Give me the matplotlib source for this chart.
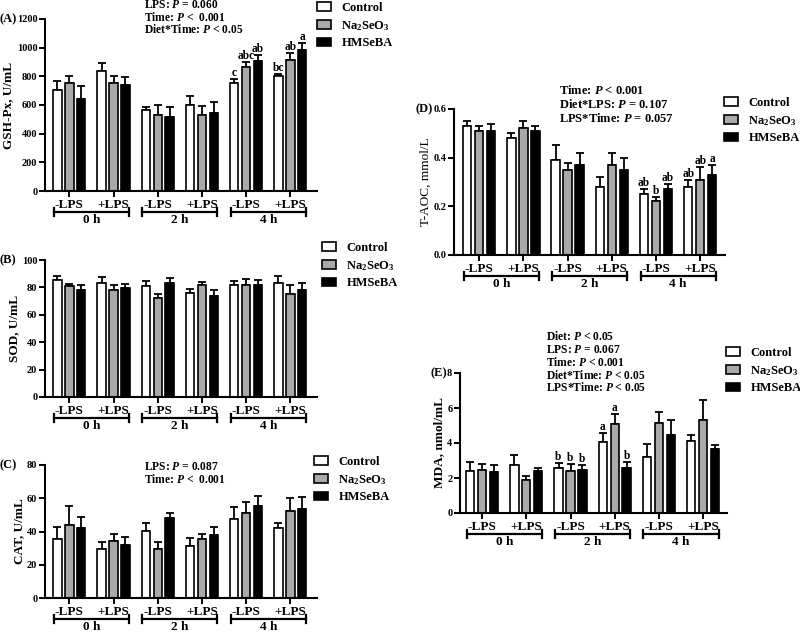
import numpy as np
import matplotlib
matplotlib.use('Agg')
import matplotlib.pyplot as plt

plt.rcParams['font.family'] = 'Liberation Serif'
plt.rcParams['font.weight'] = 'bold'
plt.rcParams['mathtext.fontset'] = 'custom'
plt.rcParams['mathtext.rm'] = 'Liberation Serif:bold'
plt.rcParams['mathtext.bf'] = 'Liberation Serif:bold'
plt.rcParams['mathtext.it'] = 'Liberation Serif:italic:bold'

# ---- data ----
tick_labels = ['-LPS', '+LPS', '-LPS', '+LPS', '-LPS', '+LPS']
time_labels = ['0 h', '2 h', '4 h']
series_names = ['Control', r'Na$_2$SeO$_3$', 'HMSeBA']
series_colors = ['white', '#a9a9a9', 'black']

# (A) GSH-Px
gsh_ctrl = [706, 834, 565, 602, 753, 799]
gsh_ctrl_err = [58, 62, 21, 61, 25, 19]
gsh_na = [755, 753, 530, 530, 866, 915]
gsh_na_err = [44, 46, 68, 63, 37, 49]
gsh_hm = [639, 741, 519, 544, 910, 982]
gsh_hm_err = [93, 54, 65, 74, 40, 51]
gsh_letters = [['', '', '', '', 'c', 'bc'],
               ['', '', '', '', 'abc', 'ab'],
               ['', '', '', '', 'ab', 'a']]

# (B) SOD
sod_ctrl = [85.1, 83.4, 81.0, 75.6, 81.7, 83.4]
sod_ctrl_err = [3.4, 4.4, 3.6, 3.4, 2.9, 5.1]
sod_na = [80.7, 77.8, 72.0, 81.5, 82.0, 75.4]
sod_na_err = [2.0, 3.9, 3.4, 2.6, 3.9, 6.3]
sod_hm = [78.0, 79.8, 83.4, 73.7, 81.5, 78.0]
sod_hm_err = [3.5, 2.6, 3.2, 4.3, 3.9, 4.9]

# (C) CAT
cat_ctrl = [35.6, 29.6, 40.2, 31.2, 47.4, 42.4]
cat_ctrl_err = [7.0, 4.2, 4.8, 4.6, 7.6, 2.8]
cat_na = [44.2, 34.4, 29.6, 35.2, 51.2, 52.6]
cat_na_err = [11.2, 3.8, 3.8, 3.0, 6.8, 7.8]
cat_hm = [42.0, 31.6, 48.0, 37.6, 55.2, 53.6]
cat_hm_err = [6.8, 5.0, 3.4, 5.4, 6.2, 7.4]

# (D) T-AOC
aoc_ctrl = [0.53, 0.48, 0.39, 0.28, 0.25, 0.28]
aoc_ctrl_err = [0.02, 0.02, 0.06, 0.04, 0.02, 0.03]
aoc_na = [0.51, 0.52, 0.35, 0.37, 0.22, 0.31]
aoc_na_err = [0.02, 0.03, 0.03, 0.05, 0.02, 0.05]
aoc_hm = [0.51, 0.51, 0.37, 0.35, 0.27, 0.33]
aoc_hm_err = [0.03, 0.02, 0.05, 0.05, 0.02, 0.04]
aoc_letters = [['', '', '', '', 'ab', 'ab'],
               ['', '', '', '', 'b', 'ab'],
               ['', '', '', '', 'ab', 'a']]

# (E) MDA
mda_ctrl = [2.40, 2.72, 2.60, 4.05, 3.19, 4.09]
mda_ctrl_err = [0.53, 0.59, 0.25, 0.51, 0.76, 0.38]
mda_na = [2.45, 1.88, 2.40, 5.11, 5.17, 5.34]
mda_na_err = [0.33, 0.23, 0.41, 0.54, 0.59, 1.14]
mda_hm = [2.36, 2.40, 2.47, 2.55, 4.47, 3.67]
mda_hm_err = [0.36, 0.19, 0.29, 0.34, 0.82, 0.21]
mda_letters = [['', '', 'b', 'a', '', ''],
               ['', '', 'b', 'a', '', ''],
               ['', '', 'b', 'b', '', '']]

W, H = 800, 632
fig = plt.figure(figsize=(W / 100, H / 100), dpi=100)
fig.patch.set_facecolor('white')

x = np.arange(6)
bw = 0.19
off = 0.27


def panel(left, top, bottom, xlim, ylim, yticks, yfmt, ylabel, means, errs,
          letters=None, label_bold=True):
    width = (xlim[1] - xlim[0]) * 44.2
    hpx = bottom - top
    ax = fig.add_axes([left / W, 1 - bottom / H, width / W, hpx / H])
    bars = []
    for i in range(3):
        pos = x + (i - 1) * off
        b = ax.bar(pos, means[i], bw, color=series_colors[i], edgecolor='black',
                   linewidth=1.2, zorder=2)
        ax.errorbar(pos, means[i], yerr=[np.zeros(6), errs[i]], fmt='none',
                    ecolor='black', elinewidth=1.3, capsize=3, capthick=1.3, zorder=1)
        bars.append(b)
        if letters is not None:
            for j in range(6):
                if letters[i][j]:
                    ax.annotate(letters[i][j], (pos[j], means[i][j] + errs[i][j]),
                                xytext=(0, 0), textcoords='offset points',
                                ha='center', va='bottom', fontsize=8.3)
    ax.set_xlim(*xlim)
    ax.set_ylim(*ylim)
    ax.set_yticks(yticks)
    ax.set_yticklabels([yfmt.format(v) for v in yticks], fontsize=7.5)
    ax.set_xticks(x)
    ax.set_xticklabels(tick_labels, fontsize=9.5)
    ax.tick_params(axis='both', direction='out', length=4, width=1.4, pad=1.5)
    for s in ['top', 'right']:
        ax.spines[s].set_visible(False)
    for s in ['left', 'bottom']:
        ax.spines[s].set_linewidth(1.5)
    ax.set_ylabel(ylabel, fontsize=9.5, fontweight='bold' if label_bold else 'normal',
                  labelpad=1.5)
    # time brackets under the axis
    trans = ax.get_xaxis_transform()
    yb = -21 / hpx
    cap = 4 / hpx
    for k in range(3):
        x0 = 2 * k - 0.35
        x1 = 2 * k + 1 + 0.35
        ax.plot([x0, x1], [yb, yb], color='black', lw=1.6, transform=trans, clip_on=False)
        for xe in (x0, x1):
            ax.plot([xe, xe], [yb - cap, yb + cap], color='black', lw=1.6,
                    transform=trans, clip_on=False)
        ax.text(2 * k + 0.5, yb - 2 / hpx, time_labels[k], transform=trans,
                ha='center', va='top', fontsize=9.5)
    return ax, bars


def legend(ax, bars, xpx, ypx):
    ax.legend(bars, series_names, loc='upper left', frameon=False,
              bbox_to_anchor=(xpx / W, 1 - ypx / H), bbox_transform=fig.transFigure,
              fontsize=9, handlelength=1.15, handleheight=0.65, handletextpad=0.8,
              labelspacing=0.38, borderpad=0, borderaxespad=0)


def stats(lines, xpx, ypx, step, size=8.3):
    for i, s in enumerate(lines):
        fig.text(xpx / W, 1 - (ypx + i * step) / H, s, fontsize=size, va='center', ha='left')


# (A)
axA, bA = panel(45, 19, 191, (-0.55, 5.6), (0, 1200), range(0, 1201, 200), '{:d}',
                'GSH-Px, U/mL', [gsh_ctrl, gsh_na, gsh_hm],
                [gsh_ctrl_err, gsh_na_err, gsh_hm_err], gsh_letters)
legend(axA, bA, 317, 2)
stats([r'LPS: $\mathit{P}$ = 0.060', r'Time: $\mathit{P}$ <  0.001',
       r'Diet*Time: $\mathit{P}$ < 0.05'], 144, 5, 12.3)
fig.text(0 / W, 1 - 19 / H, '(A)', fontsize=9, va='center', ha='left')

# (B)
axB, bB = panel(45, 260, 397, (-0.55, 5.6), (0, 100), range(0, 101, 20), '{:d}',
                'SOD, U/mL', [sod_ctrl, sod_na, sod_hm],
                [sod_ctrl_err, sod_na_err, sod_hm_err])
legend(axB, bB, 322, 242)
fig.text(0 / W, 1 - 260 / H, '(B)', fontsize=9, va='center', ha='left')

# (C)
axC, bC = panel(45, 465, 598, (-0.55, 5.6), (0, 80), range(0, 81, 20), '{:d}',
                'CAT, U/mL', [cat_ctrl, cat_na, cat_hm],
                [cat_ctrl_err, cat_na_err, cat_hm_err])
legend(axC, bC, 314, 456)
stats([r'LPS: $\mathit{P}$ = 0.087', r'Time: $\mathit{P}$ <  0.001'], 144, 467, 12.3)
fig.text(0 / W, 1 - 465 / H, '(C)', fontsize=9, va='center', ha='left')

# (D)
axD, bD = panel(454, 109, 255, (-0.57, 5.57), (0, 0.6), [0.0, 0.2, 0.4, 0.6], '{:.1f}',
                'T-AOC, mmol/L', [aoc_ctrl, aoc_na, aoc_hm],
                [aoc_ctrl_err, aoc_na_err, aoc_hm_err], aoc_letters, label_bold=False)
legend(axD, bD, 724, 97)
stats([r'Time: $\mathit{P}$ < 0.001', r'Diet*LPS: $\mathit{P}$ = 0.107',
       r'LPS*Time: $\mathit{P}$ = 0.057'], 559, 90, 14.5, size=9)
fig.text(416 / W, 1 - 109 / H, '(D)', fontsize=9, va='center', ha='left')

# (E)
axE, bE = panel(460, 373, 513, (-0.5, 5.55), (0, 8), range(0, 9, 2), '{:d}',
                'MDA, nmol/mL', [mda_ctrl, mda_na, mda_hm],
                [mda_ctrl_err, mda_na_err, mda_hm_err], mda_letters)
legend(axE, bE, 726, 347)
stats([r'Diet: $\mathit{P}$ < 0.05', r'LPS: $\mathit{P}$ = 0.067',
       r'Time: $\mathit{P}$ < 0.001', r'Diet*Time: $\mathit{P}$ < 0.05',
       r'LPS*Time: $\mathit{P}$ < 0.05'], 546, 337, 12.7)
fig.text(431 / W, 1 - 373 / H, '(E)', fontsize=9, va='center', ha='left')

fig.savefig('out.png', dpi=100)
